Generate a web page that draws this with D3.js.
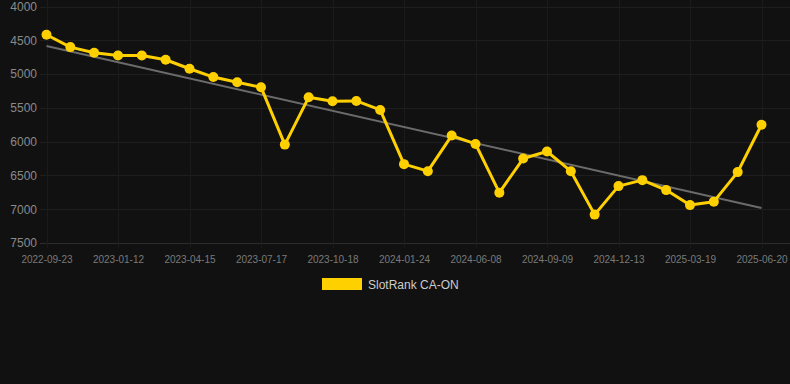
<!DOCTYPE html>
<html>
<head>
<meta charset="utf-8">
<script src="https://cdn.jsdelivr.net/npm/d3@7"></script>
<style>
  html, body { margin: 0; padding: 0; background: #111111; }
  svg { display: block; font-family: "Liberation Sans", Arial, sans-serif; }
</style>
</head>
<body>
<div id="chart"></div>
<script>
// dates of each sample (only every third one is labelled on the axis)
const dates = [
  "2022-09-23", "2022-10-30", "2022-12-06", "2023-01-12", "2023-02-12", "2023-03-15",
  "2023-04-15", "2023-05-16", "2023-06-16", "2023-07-17", "2023-08-17", "2023-09-17",
  "2023-10-18", "2023-11-22", "2023-12-28", "2024-01-24", "2024-02-28", "2024-04-03",
  "2024-06-08", "2024-07-08", "2024-08-08", "2024-09-09", "2024-10-10", "2024-11-11",
  "2024-12-13", "2025-01-16", "2025-02-17", "2025-03-19", "2025-04-20", "2025-05-20",
  "2025-06-20"
];
const seriesName = "SlotRank CA-ON";
const ranks = [
  4418, 4601, 4684, 4724, 4724, 4788, 4921, 5044, 5122, 5194,
  6044, 5344, 5403, 5398, 5531, 6333, 6437, 5910, 6034, 6755,
  6250, 6146, 6437, 7080, 6658, 6570, 6717, 6939, 6888, 6451,
  5750
];
const yTicks = [4000, 4500, 5000, 5500, 6000, 6500, 7000, 7500];

const width = 790, height = 384;
const margin = { top: 6.5, right: 28.5, bottom: 141, left: 46.5 };

const svg = d3.select("#chart").append("svg")
  .attr("width", width)
  .attr("height", height);

svg.append("rect").attr("width", width).attr("height", height).attr("fill", "#111111");

const x = d3.scalePoint()
  .domain(dates)
  .range([margin.left, width - margin.right]);

const y = d3.scaleLinear()
  .domain([4000, 7500])
  .range([margin.top, height - margin.bottom]);

const shownDates = dates.filter((d, i) => i % 3 === 0);

// grid
const grid = svg.append("g");
grid.selectAll(".hgrid")
  .data(yTicks)
  .join("line")
  .attr("x1", 40).attr("x2", width)
  .attr("y1", d => Math.round(y(d)) + 0.5).attr("y2", d => Math.round(y(d)) + 0.5)
  .attr("stroke", d => d === 7500 ? "#2c2c2c" : "#1e1e1e")
  .attr("stroke-width", 1);
grid.selectAll(".vgrid")
  .data(shownDates)
  .join("line")
  .attr("x1", d => Math.round(x(d)) + 0.5).attr("x2", d => Math.round(x(d)) + 0.5)
  .attr("y1", 0).attr("y2", y(7500) + 5)
  .attr("stroke", "#1b1b1b")
  .attr("stroke-width", 1);

// y axis labels
const yAxis = d3.axisLeft(y).tickValues(yTicks).tickFormat(d3.format("d")).tickSize(0).tickPadding(0);
svg.append("g")
  .attr("transform", `translate(37,0)`)
  .call(yAxis)
  .call(g => g.select(".domain").remove())
  .call(g => g.selectAll("text")
    .attr("fill", "#8a8a8a")
    .attr("font-size", 12)
    .attr("font-family", "Liberation Sans, Arial, sans-serif"));

// x axis labels
const xAxis = d3.axisBottom(x).tickValues(shownDates).tickSize(0).tickPadding(0);
svg.append("g")
  .attr("transform", `translate(0,${y(7500) + 20})`)
  .call(xAxis)
  .call(g => g.select(".domain").remove())
  .call(g => g.selectAll("text")
    .attr("dy", 0)
    .attr("fill", "#7a7a7a")
    .attr("font-size", 10)
    .attr("font-family", "Liberation Sans, Arial, sans-serif"));

// linear trend from a least-squares fit of the ranks
const n = ranks.length;
const xs = d3.range(n);
const mx = d3.mean(xs), my = d3.mean(ranks);
const slope = d3.sum(xs, i => (i - mx) * (ranks[i] - my)) / d3.sum(xs, i => (i - mx) ** 2);
const icpt = my - slope * mx;
svg.append("line")
  .attr("x1", x(dates[0])).attr("y1", y(icpt))
  .attr("x2", x(dates[n - 1])).attr("y2", y(icpt + slope * (n - 1)))
  .attr("stroke", "#6b6b6b")
  .attr("stroke-width", 2);

const line = d3.line()
  .x((d, i) => x(dates[i]))
  .y(d => y(d));

svg.append("path")
  .datum(ranks)
  .attr("d", line)
  .attr("fill", "none")
  .attr("stroke", "#ffd000")
  .attr("stroke-width", 3)
  .attr("stroke-linejoin", "round");

svg.selectAll(".dot")
  .data(ranks)
  .join("circle")
  .attr("cx", (d, i) => x(dates[i]))
  .attr("cy", d => y(d))
  .attr("r", 5)
  .attr("fill", "#ffd000");

// legend
const legend = svg.append("g").attr("transform", "translate(322,278)");
legend.append("rect")
  .attr("width", 40).attr("height", 12)
  .attr("fill", "#ffd000");
legend.append("text")
  .attr("x", 46).attr("y", 10.5)
  .attr("fill", "#cccccc")
  .attr("font-size", 12)
  .text(seriesName);
</script>
</body>
</html>
